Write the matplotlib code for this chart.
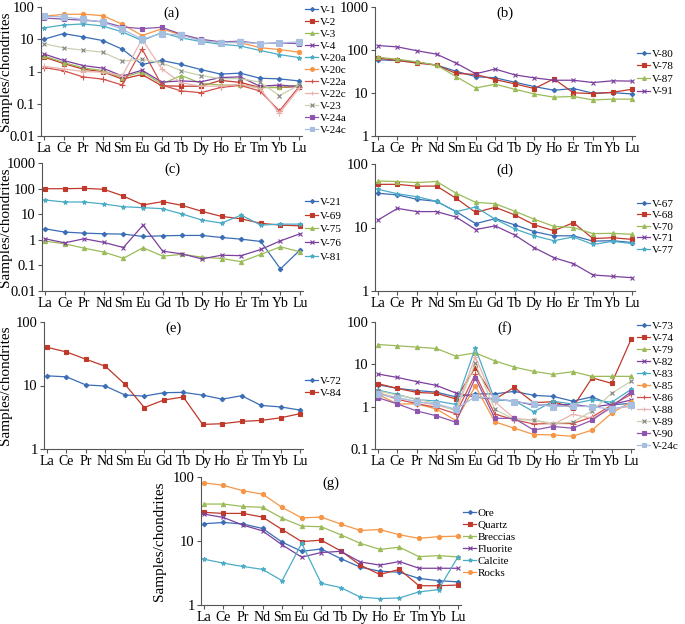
import matplotlib
matplotlib.use('Agg')
import matplotlib.pyplot as plt
from matplotlib.ticker import FixedLocator, NullLocator

plt.rcParams['font.family'] = ['Liberation Serif', 'DejaVu Serif']

ree = ['La', 'Ce', 'Pr', 'Nd', 'Sm', 'Eu', 'Gd', 'Tb', 'Dy', 'Ho', 'Er', 'Tm', 'Yb', 'Lu']

# panel (a)
a_names = ['V-1', 'V-2', 'V-3', 'V-4', 'V-20a', 'V-20c', 'V-22a', 'V-22c', 'V-23', 'V-24a', 'V-24c']
a_values = [
    [10, 15, 11.8, 9.1, 4.9, 1.65, 2.2, 1.65, 1.15, 0.83, 0.89, 0.62, 0.59, 0.51],
    [2.8, 1.77, 1.18, 0.98, 0.58, 0.81, 0.36, 0.35, 0.35, 0.53, 0.46, 0.32, 0.32, 0.34],
    [3.05, 1.9, 1.3, 1.07, 0.65, 0.98, 0.41, 0.75, 0.43, 0.38, 0.38, 0.32, 0.32, 0.38],
    [3.5, 2.2, 1.53, 1.27, 0.72, 1.1, 0.47, 0.51, 0.48, 0.65, 0.68, 0.35, 0.38, 0.34],
    [22.5, 27.7, 29.8, 25.8, 16.8, 9.1, 16, 11, 8.5, 7, 6.2, 4.5, 3.35, 2.7],
    [52, 59, 60, 54, 29, 13, 21, 13.5, 9.8, 7.9, 7.9, 5.5, 4.8, 3.96],
    [1.33, 1.05, 0.68, 0.58, 0.38, 5.0, 0.38, 0.25, 0.22, 0.32, 0.37, 0.25, 0.06, 0.34],
    [1.45, 1.2, 1.0, 0.95, 0.75, 10, 1.2, 0.45, 0.35, 0.35, 0.4, 0.3, 0.05, 0.3],
    [7.3, 5.4, 4.6, 3.96, 2.1, 2.4, 1.85, 1.05, 0.75, 0.6, 0.6, 0.47, 0.18, 0.38],
    [45.6, 42, 39, 35, 24, 21.4, 23.5, 14.2, 10, 8.3, 8.7, 7.3, 7.7, 7.3],
    [52, 49, 41.5, 33.6, 20.4, 10, 15, 13.3, 9, 7.9, 8.1, 7.3, 7.7, 8.3],
]

# panel (b)
b_names = ['V-80', 'V-78', 'V-87', 'V-91']
b_values = [
    [59, 57, 52, 44.5, 32, 24, 22.5, 17.8, 14.1, 11.6, 12.7, 9.9, 10.2, 9.5],
    [65, 57, 49.5, 44.5, 28.5, 27, 20.5, 16.3, 12.7, 21.3, 10.1, 9.7, 10.4, 12.2],
    [68, 61, 53, 44.5, 24, 13.1, 16, 12.2, 9.5, 8, 8.3, 6.9, 7.2, 7.2],
    [127, 118, 96, 80, 49.5, 28, 36, 26.4, 22.5, 19.8, 19.8, 17.5, 19.2, 18.9],
]

# panel (c)
c_names = ['V-21', 'V-69', 'V-75', 'V-76', 'V-81']
c_values = [
    [2.7, 2.0, 1.82, 1.72, 1.67, 1.35, 1.43, 1.48, 1.48, 1.23, 1.06, 0.86, 0.073, 0.4],
    [99, 99, 102, 94, 51, 23, 31, 22, 12.9, 8.2, 6.6, 4.4, 3.75, 3.5],
    [0.89, 0.7, 0.47, 0.33, 0.19, 0.49, 0.23, 0.27, 0.21, 0.186, 0.14, 0.27, 0.53, 0.34],
    [1.1, 0.76, 1.1, 0.79, 0.5, 3.75, 0.36, 0.28, 0.18, 0.25, 0.24, 0.42, 0.91, 1.72],
    [35.8, 30, 30, 25, 19.6, 18, 16.4, 10.1, 5.9, 4.5, 9.2, 3.75, 4.1, 4.1],
]

# panel (d)
d_names = ['V-67', 'V-68', 'V-70', 'V-71', 'V-77']
d_values = [
    [34.6, 32.6, 27.8, 25.8, 17.8, 11.5, 13.8, 11, 8.6, 7.4, 7.4, 6.1, 6.2, 5.8],
    [47.8, 47.8, 44.6, 45, 28.8, 17.3, 20.8, 15.8, 11, 8.9, 11.9, 6.7, 6.9, 6.5],
    [54, 53, 51, 53, 34.6, 24.9, 23.7, 18, 13.5, 10.4, 10, 8, 8.1, 7.8],
    [13.1, 20, 17.8, 17.8, 14.6, 9.3, 10.6, 7.6, 4.8, 3.35, 2.7, 1.79, 1.7, 1.62],
    [40, 34, 30.5, 25.8, 17.8, 21, 13.5, 9.5, 7.4, 6.2, 7.1, 5.4, 6.05, 5.6],
]

# panel (e)
e_names = ['V-72', 'V-84']
e_values = [
    [14.2, 13.7, 10.2, 9.8, 7.1, 6.8, 7.7, 7.8, 7.05, 6.1, 6.9, 4.85, 4.6, 4.1],
    [40, 33.8, 25.9, 20.1, 10.5, 4.5, 5.9, 6.6, 2.44, 2.5, 2.72, 2.82, 3.1, 3.6],
]

# panel (f)
f_names = ['V-73', 'V-74', 'V-79', 'V-82', 'V-83', 'V-85', 'V-86', 'V-88', 'V-89', 'V-90', 'V-24c']
f_values = [
    [3.3, 2.7, 2.4, 2.2, 1.7, 2.0, 2.0, 2.3, 1.85, 1.75, 1.35, 1.7, 1.1, 1.2],
    [3.5, 2.7, 2.17, 2.06, 1.52, 8.4, 1.49, 2.85, 1.24, 1.31, 0.95, 4.8, 3.55, 39],
    [29.4, 27.4, 25.5, 23.7, 15.6, 18.7, 12.1, 8.6, 6.8, 5.8, 6.7, 5.2, 5.2, 5.2],
    [5.9, 4.9, 3.9, 3.18, 2.1, 1.69, 1.49, 1.36, 1.09, 1.09, 1.13, 0.98, 1.13, 1.43],
    [2.47, 1.95, 1.46, 1.36, 1.13, 24.6, 1.44, 1.38, 0.76, 1.34, 1.16, 1.46, 1.27, 2.56],
    [1.95, 1.16, 1.16, 0.88, 0.47, 3.07, 0.44, 0.31, 0.22, 0.215, 0.2, 0.28, 0.7, 1.31],
    [2.17, 1.49, 1.18, 0.96, 0.68, 5.8, 0.67, 0.49, 0.39, 0.4, 0.4, 0.57, 1.09, 1.95],
    [2.06, 1.63, 1.31, 1.09, 0.83, 15, 1.31, 0.53, 0.48, 0.38, 0.66, 0.53, 0.91, 1.0],
    [2.34, 1.88, 1.52, 1.18, 0.79, 10.5, 0.87, 0.5, 0.48, 0.4, 0.43, 0.79, 2.06, 4.0],
    [1.63, 1.16, 0.79, 0.61, 0.43, 4.8, 0.53, 0.53, 0.28, 0.34, 0.31, 0.48, 1.0, 2.26],
    [1.95, 1.63, 1.31, 1.16, 0.87, 1.72, 1.57, 1.31, 1.16, 1.0, 1.04, 1.0, 0.87, 1.09],
]

# panel (g)
g_names = ['Ore', 'Quartz', 'Breccias', 'Fluorite', 'Calcite', 'Rocks']
g_values = [
    [18.6, 19.5, 18.4, 15.7, 9.6, 6.9, 7.5, 5.3, 3.9, 3.37, 3.25, 2.6, 2.4, 2.3],
    [28, 27, 27, 23.6, 15.1, 9.8, 10.3, 7, 4.2, 3.0, 3.6, 2.0, 2.0, 2.05],
    [37.8, 37.8, 34.6, 33.6, 22.7, 17.1, 16.7, 12.5, 9.2, 7.4, 8, 5.7, 5.9, 5.65],
    [26.3, 23.3, 17.7, 14.4, 8.7, 5.6, 6.6, 6.9, 4.7, 4.2, 4.77, 3.75, 3.75, 3.75],
    [5.2, 4.5, 4.0, 3.6, 2.4, 9.2, 2.18, 1.87, 1.33, 1.26, 1.29, 1.6, 1.74, 5.7],
    [81, 74, 61, 54, 33.5, 23, 23.6, 18.4, 14.6, 15.1, 12.5, 11, 11.7, 11.9],
]

BLUE, RED, GREEN, PURPLE, CYAN, ORANGE = '#3a6db5', '#c0392b', '#9bbb59', '#7b3f9e', '#4bacc6', '#f79646'
base_colors = [BLUE, RED, GREEN, PURPLE, CYAN, ORANGE, '#d2504a', '#e9b3b0', '#c8d2ad', '#8d55ad', '#a6bfe0']
base_markers = ['D', 's', '^', 'x', '*', 'o', '+', '+', 'x', 's', 's']
base_msize = [2.3, 3, 3, 3.2, 3.2, 3, 3.8, 3.8, 3.2, 3, 3.8]

W, H = 685, 624
fig = plt.figure(figsize=(W / 100, H / 100), dpi=100)


def rect(l, t, r, b):
    return [l / W, 1 - b / H, (r - l) / W, (b - t) / H]


def panel(box, names, values, ylim, tag, leg_xy, spacing, colors=None, ylabel_x=None):
    ax = fig.add_axes(rect(*box))
    x = list(range(len(ree)))
    colors = colors or base_colors
    for i, (n, v) in enumerate(zip(names, values)):
        mec = '#808080' if colors[i] == '#c8d2ad' else colors[i]
        ax.plot(x, v, color=colors[i], lw=0.9, marker=base_markers[i], ms=base_msize[i],
                mec=mec, mfc=mec, mew=0.8, label=n)
    ax.set_yscale('log')
    ax.set_ylim(*ylim)
    ax.set_xlim(-0.15, len(ree) - 0.85)
    ticks = [10.0 ** k for k in range(-3, 4) if ylim[0] <= 10.0 ** k <= ylim[1]]
    ax.yaxis.set_major_locator(FixedLocator(ticks))
    ax.yaxis.set_minor_locator(NullLocator())
    ax.set_yticklabels(['%g' % t for t in ticks], fontsize=10.5)
    ax.set_xticks(x)
    ax.set_xticklabels(ree, fontsize=10)
    for s in ['top', 'right']:
        ax.spines[s].set_visible(False)
    for s in ['left', 'bottom']:
        ax.spines[s].set_color('#555555')
        ax.spines[s].set_linewidth(0.8)
    ax.tick_params(direction='out', length=3, width=0.8, color='#555555', pad=1.5)
    ax.tick_params(axis='x', pad=1)
    if ylabel_x is not None:
        ax.set_ylabel('Samples/chondrites', fontsize=11)
        ax.yaxis.set_label_coords((ylabel_x - box[0]) / (box[2] - box[0]), 0.5)
    ax.text(0.5, 0.95, tag, transform=ax.transAxes, ha='center', va='center', fontsize=10.5)
    ax.legend(loc='upper left', bbox_to_anchor=(leg_xy[0] / W, 1 - leg_xy[1] / H),
              bbox_transform=fig.transFigure, frameon=False, fontsize=8,
              handlelength=1.2, handletextpad=0.15, borderpad=0, borderaxespad=0,
              labelspacing=spacing, markerscale=0.9)
    return ax


panel((41, 7, 302, 136), a_names, a_values, (0.01, 100), '(a)', (305, 5), 0.2, ylabel_x=12)
panel((375, 7, 635, 136), b_names, b_values, (1, 1000), '(b)',
      (637, 49), 0.25, colors=[BLUE, RED, GREEN, PURPLE])
panel((42, 163, 303, 291), c_names, c_values, (0.01, 1000), '(c)',
      (305, 197), 0.36, colors=[BLUE, RED, GREEN, PURPLE, CYAN], ylabel_x=12)
panel((375, 164, 635, 291), d_names, d_values, (1, 100), '(d)',
      (637, 199), 0.15, colors=[BLUE, RED, GREEN, PURPLE, CYAN])
panel((44, 322, 303, 449), e_names, e_values, (1, 100), '(e)',
      (305, 376), 0.2, colors=[BLUE, RED], ylabel_x=12)
panel((375, 322, 634, 449), f_names, f_values, (0.1, 100), '(f)',
      (637, 321), 0.2)
panel((201, 477, 461, 605), g_names, g_values, (1, 100), '(g)',
      (463, 508), 0.2, colors=[BLUE, RED, GREEN, PURPLE, CYAN, ORANGE], ylabel_x=166)

fig.savefig('out.png', dpi=100)
